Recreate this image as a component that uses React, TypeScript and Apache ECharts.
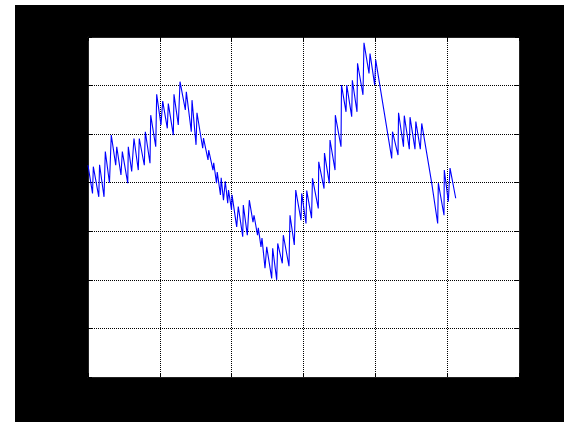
import React, { useEffect, useRef } from "react";
import * as echarts from "echarts";

// Sample positions (time axis) and measured signal values
const timeValues = [
  0, 0.63, 0.74, 1.5, 1.61, 2.23, 2.41, 2.99, 3.24, 3.86, 4.0, 4.59, 4.78, 5.53, 5.61, 6.08,
  6.4, 7.0, 7.14, 7.84, 7.98, 8.63, 8.73, 9.43, 9.56, 10.16, 10.4, 11.04, 11.18, 11.88, 11.97,
  12.57, 12.81, 13.55, 13.69, 14.38, 14.48, 15.04, 15.17, 15.97, 16.08, 16.71, 16.8, 17.4,
  17.5, 17.89, 17.99, 18.44, 18.54, 18.86, 19.11, 19.45, 19.56, 19.98, 20.05, 20.7, 20.92,
  21.54, 21.62, 22.18, 22.46, 22.97, 23.11, 23.6, 23.71, 24.08, 24.22, 24.64, 24.88, 25.57,
  25.71, 26.27, 26.41, 27.05, 27.19, 27.98, 28.12, 28.72, 28.92, 29.65, 29.75, 30.35, 30.45,
  31.12, 31.25, 32.06, 32.12, 32.86, 32.92, 33.59, 33.69, 34.39, 34.43, 35.22, 35.29, 35.92,
  36.02, 36.71, 36.8, 37.45, 37.52, 38.28, 38.42, 39.12, 39.26, 39.91, 40.05, 42.28, 42.39,
  43.16, 43.23, 43.92, 44.03, 44.73, 44.83, 45.52, 45.64, 46.26, 46.46, 47.85, 48.68, 48.77,
  49.56, 49.6, 50.16, 50.4, 51.19,
];

const signalValues = [
  0.36, -0.22, 0.33, -0.29, 0.37, -0.29, 0.64, 0.0, 0.98, 0.36, 0.74, 0.16, 0.64, -0.01, 0.74,
  0.23, 0.91, 0.26, 0.91, 0.36, 1.05, 0.4, 1.39, 0.74, 1.82, 1.19, 1.68, 1.12, 1.63, 0.98, 1.82,
  1.19, 2.08, 1.5, 1.87, 1.05, 1.7, 0.78, 1.44, 0.71, 0.92, 0.47, 0.67, 0.26, 0.41, -0.01, 0.22,
  -0.25, 0.1, -0.36, 0.03, -0.42, -0.15, -0.56, -0.25, -0.91, -0.49, -1.11, -0.46, -1.08,
  -0.36, -0.81, -0.67, -1.08, -0.93, -1.32, -1.14, -1.76, -1.32, -1.97, -1.35, -2.0, -1.25,
  -1.66, -1.08, -1.72, -0.67, -1.28, -0.15, -0.77, -0.22, -0.84, -0.16, -0.73, 0.09, -0.53,
  0.43, -0.12, 0.61, -0.01, 0.88, 0.26, 1.39, 0.74, 2.01, 1.46, 2.01, 1.36, 2.11, 1.46, 2.46,
  1.81, 2.88, 2.25, 2.66, 2.01, 2.53, 0.5, 1.05, 0.57, 1.44, 0.74, 1.38, 0.69, 1.35, 0.69,
  1.26, 0.69, 1.22, -0.01, -0.84, -0.01, -0.67, 0.26, -0.39, 0.3, -0.32,
];

// Axis ranges and grid spacing
const xRange = [0, 60];
const xStep = 10;
const yRange = [-4, 3];
const yStep = 1;

const W = 564;
const H = 422;

export default function App() {
  const ref = useRef<HTMLDivElement>(null);

  useEffect(() => {
    if (!ref.current) return;
    const chart = echarts.init(ref.current, null, { renderer: "svg" });

    const tickStyle = { show: true, inside: true, length: 4, lineStyle: { color: "#000", width: 1 } };
    const axisLine = { show: true, onZero: false, lineStyle: { color: "#222", width: 1 } };
    const gridLine = { show: true, lineStyle: { color: "#000", width: 1, type: [1, 1] as any } };

    chart.setOption({
      animation: false,
      backgroundColor: "#fff",
      graphic: [
        {
          type: "rect",
          z: -10,
          silent: true,
          shape: { x: 15, y: 5, width: W - 15, height: H - 5 },
          style: { fill: "#000" },
        },
      ],
      grid: { left: 88, top: 37, width: 431, height: 340, show: true, backgroundColor: "#fff", borderWidth: 0 },
      xAxis: [
        {
          type: "value",
          min: xRange[0],
          max: xRange[1],
          interval: xStep,
          axisLine,
          axisTick: tickStyle,
          axisLabel: { show: false },
          splitLine: gridLine,
        },
        {
          type: "value",
          position: "top",
          min: xRange[0],
          max: xRange[1],
          interval: xStep,
          axisLine,
          axisTick: tickStyle,
          axisLabel: { show: false },
          splitLine: { show: false },
        },
      ],
      yAxis: [
        {
          type: "value",
          min: yRange[0],
          max: yRange[1],
          interval: yStep,
          axisLine,
          axisTick: tickStyle,
          axisLabel: { show: false },
          splitLine: gridLine,
        },
        {
          type: "value",
          position: "right",
          min: yRange[0],
          max: yRange[1],
          interval: yStep,
          axisLine,
          axisTick: tickStyle,
          axisLabel: { show: false },
          splitLine: { show: false },
        },
      ],
      series: [
        {
          type: "line",
          data: timeValues.map((t, i) => [t, signalValues[i]]),
          showSymbol: false,
          lineStyle: { color: "#0000ff", width: 1.1 },
          z: 5,
        },
      ],
    });

    return () => chart.dispose();
  }, []);

  return (
    <div style={{ position: "fixed", left: 0, top: 0, width: W, height: H, background: "#fff" }}>
      <div ref={ref} style={{ width: W, height: H }} />
    </div>
  );
}
